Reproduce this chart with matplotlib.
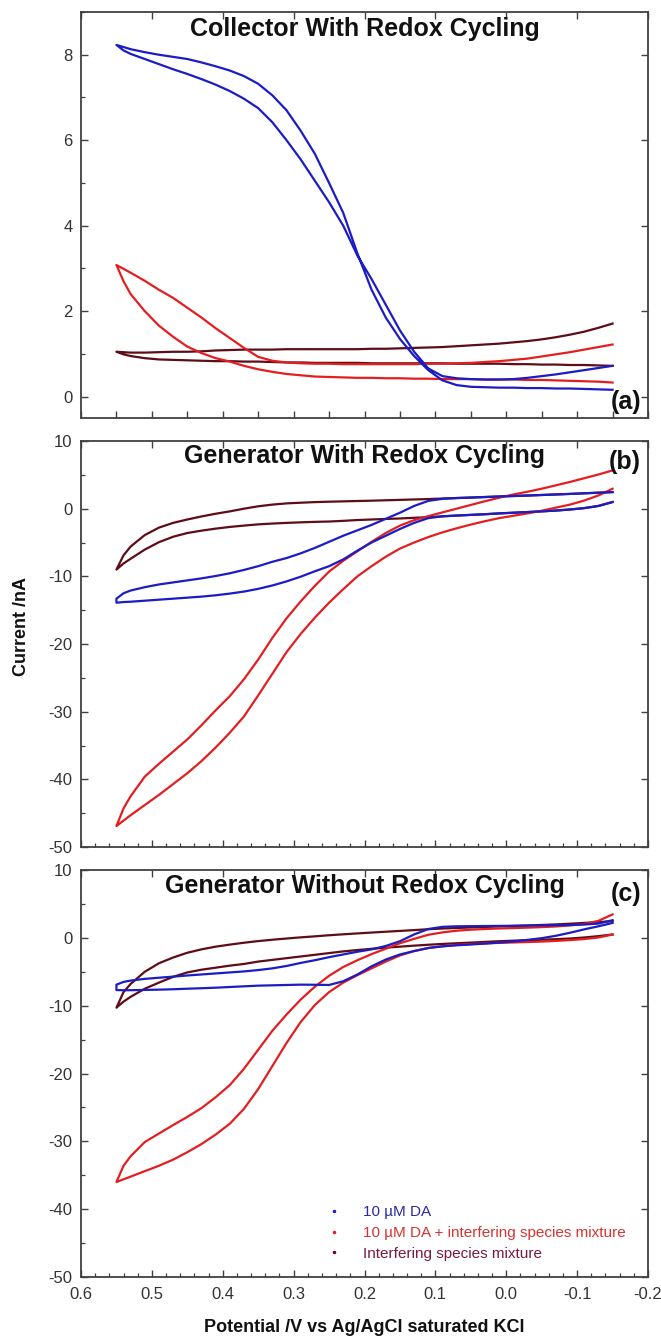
import matplotlib
matplotlib.use("Agg")
import matplotlib.pyplot as plt
from matplotlib.ticker import MultipleLocator, FixedLocator, NullFormatter
from matplotlib.lines import Line2D

# ---------------- data ----------------
potential = [0.55, 0.54, 0.53, 0.51, 0.49, 0.47, 0.45, 0.43, 0.41, 0.39, 0.37, 0.35, 0.33,
             0.31, 0.29, 0.27, 0.25, 0.23, 0.21, 0.19, 0.17, 0.15, 0.13, 0.11, 0.09,
             0.07, 0.05, 0.03, 0.01, -0.01, -0.03, -0.05, -0.07, -0.09, -0.11, -0.13, -0.15]

# (a) Collector with redox cycling
a_da_1 = [8.23, 8.18, 8.13, 8.06, 8.00, 7.95, 7.90, 7.82, 7.73, 7.63, 7.50, 7.32, 7.05, 6.70, 6.22,
          5.68, 5.00, 4.30, 3.35, 2.50, 1.85, 1.35, 0.95, 0.62, 0.38, 0.27, 0.23, 0.22, 0.21,
          0.21, 0.20, 0.20, 0.19, 0.19, 0.18, 0.17, 0.16]
a_da_2 = [8.23, 8.10, 8.02, 7.90, 7.78, 7.66, 7.55, 7.43, 7.30, 7.15, 6.97, 6.75, 6.42, 6.00, 5.55,
          5.05, 4.55, 4.00, 3.30, 2.75, 2.15, 1.55, 1.05, 0.66, 0.48, 0.43, 0.41, 0.40, 0.40,
          0.41, 0.44, 0.48, 0.52, 0.57, 0.62, 0.67, 0.72]
a_mix_1 = [3.08, 2.99, 2.90, 2.71, 2.50, 2.31, 2.08, 1.85, 1.60, 1.37, 1.14, 0.93, 0.84, 0.80, 0.78,
           0.77, 0.77, 0.76, 0.76, 0.76, 0.76, 0.76, 0.76, 0.77, 0.77, 0.78, 0.79, 0.81, 0.83,
           0.86, 0.89, 0.94, 0.99, 1.04, 1.10, 1.16, 1.22]
a_mix_2 = [3.08, 2.70, 2.40, 2.00, 1.66, 1.40, 1.17, 1.02, 0.90, 0.82, 0.72, 0.64, 0.58, 0.53, 0.50,
           0.47, 0.46, 0.45, 0.44, 0.44, 0.43, 0.43, 0.42, 0.42, 0.41, 0.41, 0.41, 0.40, 0.40,
           0.40, 0.39, 0.39, 0.38, 0.37, 0.36, 0.35, 0.33]
a_int_1 = [1.05, 1.04, 1.03, 1.03, 1.04, 1.05, 1.05, 1.06, 1.08, 1.09, 1.10, 1.10, 1.10, 1.11, 1.11,
           1.11, 1.11, 1.11, 1.11, 1.12, 1.12, 1.13, 1.14, 1.15, 1.16, 1.18, 1.20, 1.22, 1.24,
           1.27, 1.30, 1.34, 1.39, 1.45, 1.52, 1.61, 1.71]
a_int_2 = [1.05, 0.99, 0.95, 0.90, 0.87, 0.86, 0.85, 0.84, 0.83, 0.83, 0.82, 0.82, 0.81, 0.80, 0.80,
           0.79, 0.79, 0.79, 0.79, 0.78, 0.78, 0.78, 0.78, 0.78, 0.78, 0.77, 0.77, 0.77, 0.77,
           0.76, 0.76, 0.75, 0.75, 0.74, 0.74, 0.73, 0.72]

# (b) Generator with redox cycling
b_da_1 = [-13.3, -12.5, -12.1, -11.6, -11.2, -10.9, -10.6, -10.3, -9.95, -9.55, -9.05, -8.5, -7.85,
          -7.3, -6.6, -5.8, -4.9, -4.0, -3.2, -2.4, -1.5, -0.6, 0.4, 1.15, 1.45, 1.57, 1.64,
          1.72, 1.80, 1.87, 1.94, 2.02, 2.10, 2.18, 2.27, 2.36, 2.45]
b_da_2 = [-13.9, -13.8, -13.75, -13.6, -13.45, -13.3, -13.15, -13.0, -12.8, -12.55, -12.25, -11.85,
          -11.35, -10.75, -10.05, -9.25, -8.5, -7.5, -6.2, -5.0, -4.0, -3.0, -2.1, -1.4, -1.13,
          -1.02, -0.92, -0.82, -0.7, -0.6, -0.5, -0.4, -0.28, -0.12, 0.08, 0.4, 0.98]
b_mix_1 = [-46.9, -44.3, -42.5, -39.6, -37.7, -35.9, -34.1, -32.0, -29.8, -27.7, -25.2, -22.3, -19.1,
           -16.2, -13.7, -11.4, -9.3, -7.7, -6.3, -4.9, -3.6, -2.5, -1.7, -1.1, -0.55, 0.0,
           0.55, 1.1, 1.62, 2.1, 2.5, 2.95, 3.45, 3.95, 4.5, 5.05, 5.65]
b_mix_2 = [-46.9, -46.1, -45.3, -43.8, -42.3, -40.7, -39.1, -37.3, -35.3, -33.1, -30.7, -27.6, -24.4,
           -21.2, -18.5, -16.1, -13.9, -11.9, -10.0, -8.5, -7.1, -5.9, -5.0, -4.2, -3.5, -2.9,
           -2.35, -1.85, -1.4, -1.05, -0.7, -0.3, 0.15, 0.6, 1.2, 1.95, 2.95]
b_int_1 = [-9.0, -6.9, -5.6, -3.9, -2.8, -2.1, -1.6, -1.15, -0.75, -0.4, 0.0, 0.35, 0.6, 0.78, 0.88,
           0.97, 1.03, 1.08, 1.13, 1.18, 1.24, 1.30, 1.36, 1.42, 1.50, 1.57, 1.64, 1.72, 1.80,
           1.87, 1.94, 2.02, 2.10, 2.18, 2.27, 2.36, 2.45]
b_int_2 = [-9.0, -8.1, -7.4, -6.05, -4.95, -4.15, -3.6, -3.25, -2.95, -2.7, -2.5, -2.32, -2.2, -2.1,
           -2.02, -1.95, -1.9, -1.8, -1.68, -1.6, -1.52, -1.45, -1.35, -1.25, -1.13, -1.02,
           -0.92, -0.82, -0.7, -0.6, -0.5, -0.4, -0.28, -0.12, 0.08, 0.4, 0.98]

# (c) Generator without redox cycling
c_da_1 = [-6.9, -6.5, -6.3, -6.05, -5.88, -5.72, -5.55, -5.4, -5.25, -5.1, -4.95, -4.75, -4.5, -4.15,
          -3.7, -3.3, -2.85, -2.45, -2.05, -1.7, -1.2, -0.5, 0.5, 1.3, 1.62, 1.70, 1.72, 1.74,
          1.76, 1.78, 1.80, 1.83, 1.86, 1.90, 1.96, 2.1, 2.6]
c_da_2 = [-7.7, -7.72, -7.72, -7.68, -7.64, -7.58, -7.5, -7.43, -7.35, -7.25, -7.15, -7.05, -7.0, -6.95,
          -6.9, -6.92, -6.95, -6.4, -5.4, -4.2, -3.2, -2.45, -1.95, -1.5, -1.25, -1.1, -0.98,
          -0.85, -0.7, -0.55, -0.3, -0.05, 0.3, 0.75, 1.25, 1.7, 2.2]
c_mix_1 = [-36.0, -33.6, -32.2, -30.1, -28.85, -27.6, -26.4, -25.1, -23.5, -21.7, -19.3, -16.5, -13.7,
           -11.3, -9.1, -7.2, -5.6, -4.3, -3.3, -2.4, -1.6, -0.8, -0.15, 0.45, 0.8, 1.05, 1.2,
           1.3, 1.38, 1.44, 1.5, 1.58, 1.68, 1.82, 2.05, 2.5, 3.45]
c_mix_2 = [-36.0, -35.6, -35.2, -34.4, -33.6, -32.7, -31.6, -30.4, -29.0, -27.4, -25.2, -22.3, -18.9,
           -15.5, -12.4, -9.9, -8.0, -6.6, -5.5, -4.5, -3.5, -2.6, -1.95, -1.5, -1.25, -1.05,
           -0.92, -0.82, -0.74, -0.68, -0.62, -0.55, -0.45, -0.33, -0.18, 0.05, 0.49]
c_int_1 = [-10.3, -8.0, -6.8, -5.0, -3.75, -2.9, -2.2, -1.7, -1.3, -1.0, -0.72, -0.48, -0.28, -0.1,
           0.07, 0.22, 0.38, 0.52, 0.65, 0.78, 0.9, 1.02, 1.14, 1.27, 1.37, 1.45, 1.53, 1.6,
           1.68, 1.75, 1.82, 1.9, 1.98, 2.08, 2.2, 2.32, 2.46]
c_int_2 = [-10.3, -9.4, -8.7, -7.5, -6.6, -5.75, -5.1, -4.7, -4.4, -4.1, -3.85, -3.5, -3.25, -3.0,
           -2.75, -2.5, -2.25, -2.0, -1.8, -1.62, -1.45, -1.3, -1.15, -1.02, -0.9, -0.8, -0.7,
           -0.6, -0.5, -0.42, -0.35, -0.28, -0.2, -0.1, 0.05, 0.25, 0.49]

titles = ["Collector With Redox Cycling", "Generator With Redox Cycling",
          "Generator Without Redox Cycling"]
panel_tags = ["(a)", "(b)", "(c)"]
legend_labels = ["10 \u00b5M DA", "10 \u00b5M DA + interfering species mixture",
                 "Interfering species mixture"]

# ---------------- style ----------------
C_DA = "#1c1cc4"
C_MIX = "#e41e20"
C_INT = "#5e0c16"
TXT_DA = "#2a2aa0"
TXT_MIX = "#d83232"
TXT_INT = "#7a1a3a"
SPINE = "#404040"

REG = ["Liberation Sans", "DejaVu Sans"]
plt.rcParams["font.family"] = REG
plt.rcParams["axes.unicode_minus"] = False

W, H = 661, 1341
fig = plt.figure(figsize=(W / 100, H / 100), dpi=100)

def fx(px):
    return px / W

def fy(py):
    return 1 - py / H

left, right = 81, 648
boxes = [(12, 418), (441, 847), (870, 1277)]
ylims = [(-0.5, 9), (-50, 10), (-50, 10)]
ymaj = [2, 10, 10]
ymin = [1, 5, 5]

data = [
    [(a_int_1, a_int_2), (a_mix_1, a_mix_2), (a_da_1, a_da_2)],
    [(b_int_1, b_int_2), (b_mix_1, b_mix_2), (b_da_1, b_da_2)],
    [(c_int_1, c_int_2), (c_mix_1, c_mix_2), (c_da_1, c_da_2)],
]
colors = [C_INT, C_MIX, C_DA]

title_base = [36, 463, 893]
tag_pos = [(626, 402), (625, 462), (626, 894)]

axes = []
for i, (top, bot) in enumerate(boxes):
    ax = fig.add_axes([fx(left), fy(bot), fx(right - left), (bot - top) / H])
    axes.append(ax)
    for (b1, b2), col in zip(data[i], colors):
        xs = potential[::-1] + potential
        ys = b1[::-1] + b2
        ax.plot(xs, ys, color=col, lw=1.6, solid_joinstyle="round", zorder=3)
    ax.set_xlim(0.6, -0.2)
    ax.set_ylim(*ylims[i])
    for s in ax.spines.values():
        s.set_color(SPINE)
        s.set_linewidth(1.3)
    ax.yaxis.set_major_locator(MultipleLocator(ymaj[i]))
    ax.yaxis.set_minor_locator(MultipleLocator(ymin[i]))
    if i == 0:
        ax.xaxis.set_major_locator(MultipleLocator(0.05))
        ax.xaxis.set_minor_locator(FixedLocator([]))
    else:
        ax.xaxis.set_major_locator(MultipleLocator(0.1))
        ax.xaxis.set_minor_locator(MultipleLocator(0.02))
    ax.tick_params(which="major", direction="in", length=5, width=1.0, color=SPINE,
                   labelsize=12, labelcolor="#333333", pad=6)
    ax.tick_params(which="minor", direction="in", length=3, width=0.9, color=SPINE)
    if i < 2:
        ax.xaxis.set_major_formatter(NullFormatter())
    else:
        ax.xaxis.set_major_formatter(plt.FuncFormatter(lambda v, p: f"{v:.1f}"))
        ax.tick_params(axis="x", pad=7)
    sx = ax.secondary_xaxis("top")
    sx.xaxis.set_major_locator(MultipleLocator(0.1))
    sx.tick_params(direction="in", length=5, width=1.0, color=SPINE, labeltop=False)
    sx.spines["top"].set_visible(False)
    sy = ax.secondary_yaxis("right")
    sy.yaxis.set_major_locator(MultipleLocator(ymaj[i]))
    sy.tick_params(direction="in", length=5, width=1.0, color=SPINE, labelright=False)
    sy.spines["right"].set_visible(False)

    ax.text(0.5, (bot - title_base[i]) / (bot - top), titles[i], transform=ax.transAxes,
            ha="center", va="baseline", fontsize=18, fontweight="bold", color="#111111")
    tx, ty = tag_pos[i]
    ax.text((tx - left) / (right - left), (bot - ty) / (bot - top), panel_tags[i],
            transform=ax.transAxes, ha="center", va="center", fontsize=18,
            fontweight="bold", color="#111111")

handles = [Line2D([], [], ls="none", marker=".", ms=3, color=c) for c in (C_DA, C_MIX, C_INT)]
leg = axes[2].legend(handles, legend_labels, loc="upper left",
                     bbox_to_anchor=((326 - left) / (right - left), (1277 - 1205) / 407),
                     frameon=False, fontsize=11, handlelength=1.0, handletextpad=1.4,
                     labelspacing=0.45, borderpad=0, borderaxespad=0,
                     labelcolor=[TXT_DA, TXT_MIX, TXT_INT])

fig.text(fx(22), fy(626), "Current /nA", rotation=90, ha="center", va="center",
         fontsize=13, fontweight="bold", color="#111111")
fig.text(fx(364), fy(1328), "Potential /V vs Ag/AgCl saturated KCl", ha="center",
         va="center", fontsize=13, fontweight="bold", color="#111111")

fig.savefig("out.png", dpi=100)
